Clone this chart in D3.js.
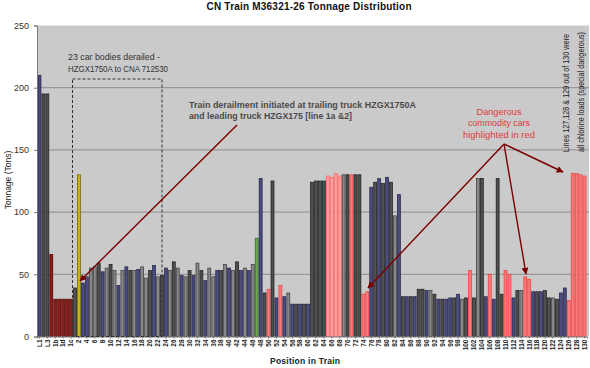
<!DOCTYPE html>
<html><head><meta charset="utf-8">
<script src="https://cdn.jsdelivr.net/npm/d3@7"></script>
<style>body{margin:0;background:#fff}svg{display:block}text{font-family:"Liberation Sans",Arial,sans-serif}</style>
</head><body><svg id="c" width="590" height="368"></svg>
<script>
const categories = ["L1","L2","L3","1e","1b","1f","1d","1g","1c","1a",
"2","3","4","5","6","7","8","9","10","11","12","13","14","15","16","17","18","19","20","21","22","23","24","25","26","27","28","29","30","31","32","33","34","35","36","37","38","39","40","41","42","43","44","45","46","47","48","49","50","51","52","53","54","55","56","57","58","59","60","61","62","63","64","65","66","67","68","69","70","71","72","73","74","75","76","77","78","79","80","81","82","83","84","85","86","87","88","89","90","91","92","93","94","95","96","97","98","99","100","101","102","103","104","105","106","107","108","109","110","111","112","113","114","115","116","117","118","119","120","121","122","123","124","125","126","127","128","129","130"];
const tonnage = [210,195,195,66,30,30,30,30,30,39,
130,43,48,55,56,59,52,55,58,53,
41,53,56,53,53,54,56,47,53,57,
48,49,55,53,60,55,49,48,53,49,
59,53,45,55,48,53,53,58,55,53,
60,53,55,53,58,79,127,35,38,125,
31,41,32,35,26,26,26,26,26,124,
125,125,125,129,128,131,129,130,130,130,
130,130,34,36,120,124,127,123,128,124,
97,114,32,32,32,32,38,38,37,37,
34,30,30,30,31,31,34,30,31,53,
31,127,127,32,50,30,127,34,53,50,
31,37,37,48,46,36,36,36,37,31,
31,30,35,39,29,131,131,130,129];
const carType = ("BKKDDDDDDK"+"YBBGGKBGKG"+"BGBKGBGGKB"+"GKBGKGBGKB"+"GKBGGBKGBG"+"KBGBGNBKRK"+"BRBGBKBKBK"+"KKKPPPPGKR"+"KKRRBKBKBK"+"GBKBKBKKBG"+"KBKBBKBGKR"+"KGKBRBKKRR"+"BKGRRBKBKK"+"GKBBRRRRR").split("");
const yTicks = [0,50,100,150,200,250];
const typeFill = {B:"#4c4c7c",K:"#505050",G:"#878787",R:"#ff7a7a",P:"#ffa3a3",D:"#8c1c1c",Y:"#c8b400",N:"#6aa84f"};
const typeStroke = {B:"#20204c",K:"#1a1a1a",G:"#3a3a3a",R:"#e83c3c",P:"#ff5c5c",D:"#5a0000",Y:"#6b6000",N:"#2f5f2f"};

const svg = d3.select("#c");
const x = d3.scaleBand().domain(categories).range([37,587]).padding(0.25);
const y = d3.scaleLinear().domain([0,250]).range([336.5,25.5]);

svg.append("rect").attr("x",37).attr("y",y(250)).attr("width",552).attr("height",y(0)-y(250)).attr("fill","#cacaca");
svg.append("g").selectAll("line").data(yTicks.filter(d=>d>0&&d<250)).join("line")
  .attr("x1",37).attr("x2",589).attr("y1",d=>y(d)).attr("y2",d=>y(d))
  .attr("stroke","#8e8e8e").attr("stroke-width",1);

svg.append("g").selectAll("rect").data(categories).join("rect")
  .attr("x",d=>x(d)).attr("width",x.bandwidth())
  .attr("y",(d,i)=>y(tonnage[i])).attr("height",(d,i)=>y(0)-y(tonnage[i]))
  .attr("fill",(d,i)=>typeFill[carType[i]]).attr("stroke",(d,i)=>typeStroke[carType[i]]).attr("stroke-width",0.7);

const ya = svg.append("g").attr("transform","translate(37,0)")
  .call(d3.axisLeft(y).tickValues(yTicks).tickSize(3).tickPadding(5));
ya.select(".domain").attr("stroke","#777");
ya.selectAll(".tick line").attr("stroke","#777");
ya.selectAll("text").attr("font-size",9).attr("fill","#333").attr("font-family","Liberation Sans, Arial, sans-serif");

const xa = svg.append("g").attr("transform",`translate(0,${y(0)})`)
  .call(d3.axisBottom(x).tickValues(categories.filter((d,i)=>i%2===0)).tickSize(2).tickPadding(2));
xa.select(".domain").attr("stroke","#777");
xa.selectAll(".tick line").attr("stroke","#777");
xa.selectAll("text").attr("font-size",6.5).attr("fill","#222").attr("font-weight","bold")
  .attr("font-family","Liberation Sans Narrow, Liberation Sans, Arial, sans-serif")
  .attr("transform","rotate(-90)").attr("x",-3).attr("y",0).attr("dy","0.35em").style("text-anchor","end");

svg.append("text").attr("x",309).attr("y",10).attr("text-anchor","middle").attr("font-size",10).attr("font-weight","bold").attr("fill","#111")
  .attr("textLength",205).text("CN Train M36321-26 Tonnage Distribution");
svg.append("text").attr("x",305).attr("y",364).attr("text-anchor","middle").attr("font-size",8.5).attr("font-weight","bold").attr("fill","#222")
  .attr("textLength",70).text("Position in Train");
svg.append("text").attr("transform","translate(11,180) rotate(-90)").attr("text-anchor","middle").attr("font-size",8.5).attr("fill","#222")
  .text("Tonnage (Tons)");

svg.append("rect").attr("x",72.5).attr("y",79).attr("width",89.5).attr("height",y(0)-79)
  .attr("fill","none").attr("stroke","#333").attr("stroke-width",1).attr("stroke-dasharray","3,2");

function tline(xp,yp,txt,len,opts={}){
  const t = svg.append("text").attr("x",xp).attr("y",yp).attr("font-size",opts.size||8.5).attr("fill",opts.fill||"#333")
    .attr("text-anchor",opts.anchor||"start");
  if(opts.weight) t.attr("font-weight",opts.weight);
  if(len) t.attr("textLength",len).attr("lengthAdjust","spacingAndGlyphs");
  t.text(txt); return t;
}
tline(68,60,"23 car bodies derailed -",92);
tline(68,72,"HZGX1750A to CNA 712530",100);
tline(189,107.5,"Train derailment initiated at trailing truck HZGX1750A",227,{weight:"bold",fill:"#4a4a4a"});
tline(189,119,"and leading truck HZGX175 [line 1a &2]",163,{weight:"bold",fill:"#4a4a4a"});
tline(499,115,"Dangerous",45,{anchor:"middle",fill:"#e03a3a"});
tline(499,126,"commodity cars",62,{anchor:"middle",fill:"#e03a3a"});
tline(499,137.5,"highlighted in red",72,{anchor:"middle",fill:"#e03a3a"});

svg.append("text").attr("transform","translate(569,152) rotate(-90)").attr("font-size",8.5).attr("fill","#222")
  .attr("textLength",118).attr("lengthAdjust","spacingAndGlyphs").text("Lines 127,128 & 129 out of 130 were");
svg.append("text").attr("transform","translate(584,152) rotate(-90)").attr("font-size",8.5).attr("fill","#222")
  .attr("textLength",120).attr("lengthAdjust","spacingAndGlyphs").text("all chlorine loads (special dangerous)");

const defs = svg.append("defs");
defs.append("marker").attr("id","ah").attr("viewBox","0 0 10 10").attr("refX",9).attr("refY",5)
  .attr("markerWidth",5).attr("markerHeight",5).attr("orient","auto-start-reverse")
  .append("path").attr("d","M0,0L10,5L0,10z").attr("fill","#7a0000");
const arrows = [[237,125,80,281],[504,144,368,288],[504,144,526,274],[504,144,563,172]];
svg.append("g").selectAll("line").data(arrows).join("line")
  .attr("x1",d=>d[0]).attr("y1",d=>d[1]).attr("x2",d=>d[2]).attr("y2",d=>d[3])
  .attr("stroke","#7a0000").attr("stroke-width",1.4).attr("marker-end","url(#ah)");
</script></body></html>
